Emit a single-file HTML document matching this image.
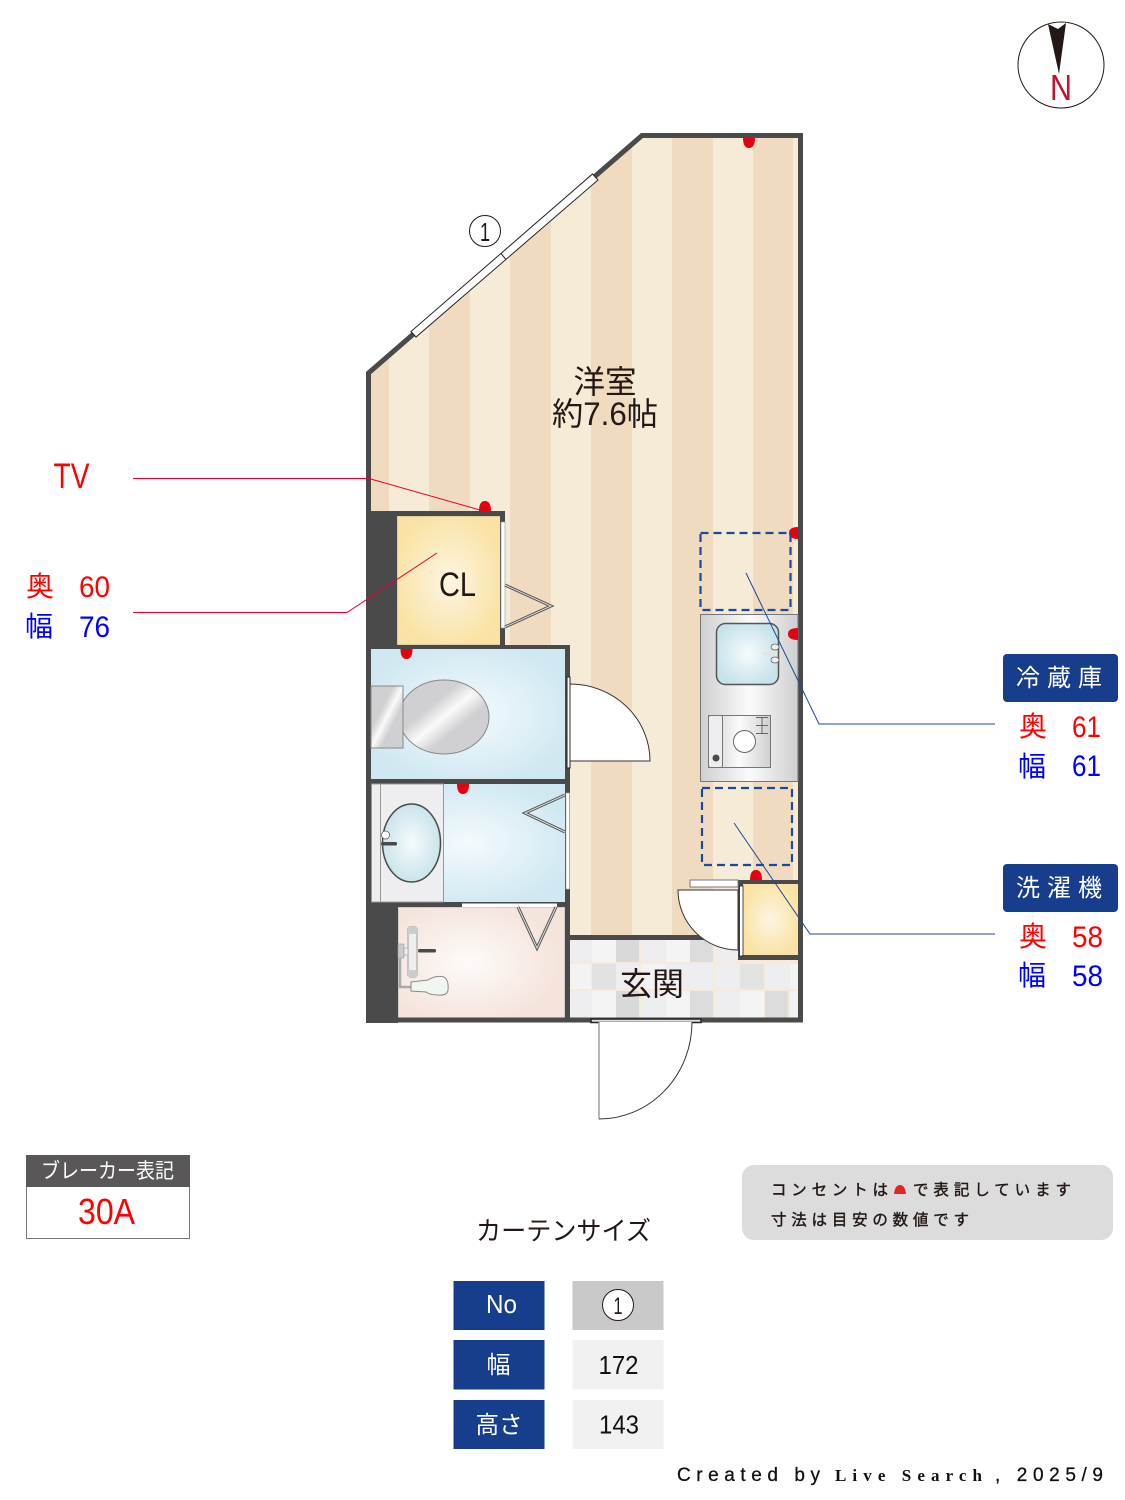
<!DOCTYPE html>
<html lang="ja">
<head>
<meta charset="utf-8">
<style>
html,body{margin:0;padding:0;background:#fff}
svg{display:block}
text{font-family:"Liberation Sans","Noto Sans CJK JP",sans-serif}
</style>
</head>
<body>
<svg xmlns="http://www.w3.org/2000/svg" width="1125" height="1500" viewBox="0 0 1125 1500">
<defs>
<clipPath id="room"><polygon points="368.5,373 642,135.5 800.5,135.5 800.5,1020 368.5,1020"/></clipPath>
<radialGradient id="gBlue" cx="50%" cy="50%" r="55%"><stop offset="0" stop-color="#f4fafd"/><stop offset="1" stop-color="#d0e8f2"/></radialGradient>
<radialGradient id="gYel" cx="50%" cy="50%" r="55%"><stop offset="0" stop-color="#fdf5e2"/><stop offset="1" stop-color="#f9e2a3"/></radialGradient>
<radialGradient id="gPink" cx="42%" cy="50%" r="55%"><stop offset="0" stop-color="#fdfbf9"/><stop offset="1" stop-color="#f5e4dc"/></radialGradient>
<radialGradient id="gBasin" cx="50%" cy="50%" r="55%"><stop offset="0" stop-color="#f6fbfc"/><stop offset="1" stop-color="#c6e2ea"/></radialGradient>
<linearGradient id="gMetal" x1="0" y1="0" x2="1" y2="1"><stop offset="0" stop-color="#d0d0d2"/><stop offset=".35" stop-color="#d0d0d2"/><stop offset=".5" stop-color="#fafafa"/><stop offset=".65" stop-color="#d0d0d2"/><stop offset="1" stop-color="#d0d0d2"/></linearGradient>
<linearGradient id="gKit" x1="0" y1="0" x2="1" y2="0"><stop offset="0" stop-color="#cfcfd1"/><stop offset=".5" stop-color="#fbfbfb"/><stop offset="1" stop-color="#cfcfd1"/></linearGradient>
</defs>

<!-- floor -->
<polygon points="368.5,373 642,135.5 800.5,135.5 800.5,1020 368.5,1020" fill="#f6ebd6"/>
<g clip-path="url(#room)" fill="#f1dbc0">
<rect x="368" y="130" width="21" height="900"/>
<rect x="429" y="130" width="41" height="900"/>
<rect x="510" y="130" width="41" height="900"/>
<rect x="591" y="130" width="41" height="900"/>
<rect x="672" y="130" width="41" height="900"/>
<rect x="753" y="130" width="40" height="900"/>
</g>

<!-- genkan tiles -->
<rect x="570" y="938" width="229" height="81" fill="#f8ead8"/>
<g fill="#eeeef0">
<rect x="570" y="940" width="21" height="22"/><rect x="592" y="940" width="24" height="22" fill="#f4f4f5"/><rect x="616" y="940" width="23" height="22" fill="#d9d9da"/><rect x="641" y="940" width="24" height="22"/><rect x="666" y="940" width="24" height="22" fill="#f4f4f5"/><rect x="690" y="940" width="23" height="22" fill="#dcdcdd"/><rect x="715" y="940" width="23" height="22"/>
<rect x="570" y="964" width="21" height="25" fill="#f3f3f4"/><rect x="592" y="964" width="24" height="25" fill="#e2e2e3"/><rect x="616" y="964" width="23" height="25"/><rect x="641" y="964" width="24" height="25" fill="#f3f3f4"/><rect x="666" y="964" width="24" height="25"/><rect x="690" y="964" width="23" height="25"/><rect x="715" y="964" width="24" height="25"/><rect x="740" y="964" width="24" height="25" fill="#e3e3e4"/><rect x="765" y="964" width="24" height="25"/><rect x="790" y="964" width="8" height="25" fill="#f3f3f4"/>
<rect x="570" y="991" width="21" height="27"/><rect x="592" y="991" width="24" height="27" fill="#f4f4f5"/><rect x="616" y="991" width="23" height="27" fill="#d9d9da"/><rect x="641" y="991" width="24" height="27"/><rect x="666" y="991" width="24" height="27" fill="#f4f4f5"/><rect x="690" y="991" width="23" height="27" fill="#dcdcdd"/><rect x="715" y="991" width="24" height="27"/><rect x="740" y="991" width="24" height="27" fill="#f4f4f5"/><rect x="765" y="991" width="23" height="27" fill="#dcdcdd"/><rect x="790" y="991" width="8" height="27" fill="#f3f3f4"/>
</g>

<!-- closet / rooms -->
<rect x="397" y="516" width="104" height="129" fill="url(#gYel)" stroke="#b5ab93" stroke-width=".8"/>
<rect x="371" y="649" width="194" height="130" fill="url(#gBlue)"/>
<rect x="371" y="784" width="194" height="118" fill="url(#gBlue)"/>
<rect x="398" y="907" width="167" height="111" fill="url(#gPink)" stroke="#aaa" stroke-width=".8"/>
<rect x="743" y="884" width="55" height="71" fill="url(#gYel)"/>

<!-- walls -->
<polygon points="368.5,373 642,135.5 800.5,135.5 800.5,1020 368.5,1020" fill="none" stroke="#4a4a4a" stroke-width="5"/>
<g fill="#4a4a4a">
<rect x="366" y="511" width="31" height="136"/>
<rect x="366" y="511" width="139" height="5"/>
<rect x="500" y="511" width="5" height="136"/>
<rect x="366" y="645" width="204" height="4"/>
<rect x="565" y="645" width="5" height="376"/>
<rect x="366" y="779" width="204" height="5"/>
<rect x="366" y="902" width="204" height="5"/>
<rect x="366" y="902" width="32" height="121"/>
<rect x="570" y="935" width="170" height="5"/>
<rect x="738" y="880" width="65" height="4"/>
<rect x="738" y="880" width="5" height="80"/>
<rect x="738" y="955" width="65" height="5"/>
</g>

<!-- window 1 -->
<g stroke="#2a2320" stroke-width="1" fill="#fff">
<polygon points="411,331.500 416,337 598,180 592.500,174"/>
<line x1="501" y1="253.500" x2="506" y2="259.500"/>
</g>

<!-- doors -->
<rect x="501" y="522" width="4" height="106" fill="#fff" stroke="#999" stroke-width=".6"/>
<polyline points="505,585 551,606 505,627" fill="none" stroke="#555" stroke-width="3"/>
<polyline points="505,585 551,606 505,627" fill="none" stroke="#ddd" stroke-width="1"/>

<rect x="567" y="677" width="3" height="91" fill="#fff" stroke="#222" stroke-width="1"/>
<path d="M570,684 A80,77 0 0 1 650,761 L570,761 Z" fill="#fff" stroke="#3a3230" stroke-width="1"/>

<rect x="566" y="793" width="3.500" height="96" fill="#fff" stroke="#aaa" stroke-width=".6"/>
<polyline points="565,795 525,813 565,832" fill="none" stroke="#555" stroke-width="3"/>
<polyline points="565,795 525,813 565,832" fill="none" stroke="#ddd" stroke-width="1"/>

<rect x="462" y="903.500" width="95" height="3.500" fill="#fff"/>
<polyline points="518,907 537,948 556,907" fill="none" stroke="#555" stroke-width="3"/>
<polyline points="518,907 537,948 556,907" fill="none" stroke="#ddd" stroke-width="1"/>

<rect x="690" y="880" width="48" height="7" fill="#fff" stroke="#777" stroke-width="1"/>
<path d="M678,890 L738,890 L738,950 A60,60 0 0 1 678,890 Z" fill="#fff" stroke="#3a3230" stroke-width="1"/>
<rect x="739.500" y="886" width="3.500" height="70" fill="#fff" stroke="#222" stroke-width=".8"/>

<rect x="591" y="1019" width="110" height="3.500" fill="#ddd" stroke="#222" stroke-width="1.500"/>
<path d="M599,1022 L599,1119 A93,97 0 0 0 692,1022" fill="#fff" stroke="none"/>
<line x1="599" y1="1022" x2="599" y2="1119" stroke="#888" stroke-width="1.200"/>
<path d="M599,1119 A93,97 0 0 0 692,1022" fill="none" stroke="#3a3230" stroke-width="1"/>

<!-- toilet -->
<ellipse cx="444" cy="717" rx="45" ry="37" fill="url(#gMetal)" stroke="#888" stroke-width="1"/>
<rect x="371" y="686" width="32" height="62" fill="url(#gMetal)" stroke="#888" stroke-width="1"/>

<!-- vanity -->
<rect x="371.500" y="784" width="72" height="118" fill="#eeeef0" stroke="#999" stroke-width="1"/>
<line x1="380.500" y1="784" x2="380.500" y2="902" stroke="#999" stroke-width="1"/>
<ellipse cx="411.500" cy="843" rx="29" ry="39" fill="url(#gBasin)" stroke="#4a4a4a" stroke-width="1.500"/>
<circle cx="385.500" cy="835" r="4" fill="#fff" stroke="#555" stroke-width=".7"/>
<rect x="381" y="842" width="16" height="3.500" rx="1.500" fill="#4a4a4a"/>

<!-- shower fixture -->
<rect x="408" y="927" width="9" height="50" rx="2" fill="#eee" stroke="#999" stroke-width="1"/>
<rect x="408" y="927" width="9" height="7" fill="#ccc"/><rect x="408" y="970" width="9" height="7" fill="#ccc"/>
<rect x="398" y="944" width="6" height="14" fill="#ccc" stroke="#999" stroke-width=".6"/>
<rect x="404" y="948" width="4" height="7" fill="#eee" stroke="#999" stroke-width=".6"/>
<rect x="418" y="949" width="18" height="3.500" rx="1.500" fill="#4a4a4a"/>
<path d="M400,958 L400,987 L411,987" fill="none" stroke="#aaa" stroke-width="2.500"/>
<path d="M411,982 L428,980 Q436,975 444,977 Q449,980 448,990 Q447,996 438,995 Q430,995 426,992 L411,991 Z" fill="#f2f6f1" stroke="#888" stroke-width="1"/>

<!-- kitchen -->
<rect x="700.500" y="614.500" width="97.500" height="167" fill="url(#gKit)" stroke="#777" stroke-width="1"/>
<rect x="716.500" y="623.500" width="62" height="61" rx="9" fill="url(#gBasin)" stroke="#555" stroke-width="1.500"/>
<ellipse cx="775" cy="647" rx="4" ry="3" fill="#eee" stroke="#666" stroke-width=".8"/>
<ellipse cx="775" cy="660" rx="4" ry="3" fill="#eee" stroke="#666" stroke-width=".8"/>
<rect x="763" y="652" width="14" height="4" fill="#e4e4e4"/>
<rect x="708.500" y="715.500" width="62" height="52" fill="url(#gKit)" stroke="#777" stroke-width="1"/>
<rect x="708.500" y="715.500" width="14" height="52" rx="2" fill="#eeeef0" stroke="#777" stroke-width="1"/>
<circle cx="716" cy="758" r="3.500" fill="#4a4a4a"/>
<circle cx="744.500" cy="741.500" r="11" fill="#fff" stroke="#666" stroke-width="1"/>
<path d="M756,717.500 H768 M756,733.500 H768 M762,717.500 V733.500 M756,725.500 H768" stroke="#666" stroke-width="1" fill="none"/>

<!-- outlets -->
<g fill="#e60012">
<path d="M743,138 Q743,148 749,148 Q755,148 755,138 Z"/>
<path d="M479,511 Q479,501 485,501 Q491,501 491,511 Z"/>
<path d="M400.500,649 Q400.500,659 406.500,659 Q412.500,659 412.500,649 Z"/>
<path d="M457,784 Q457,794 463,794 Q469,794 469,784 Z"/>
<path d="M798,527 Q789,527 789,533 Q789,539 798,539 Z"/>
<path d="M798,628 Q788,628 788,634 Q788,640 798,640 Z"/>
<path d="M750,880 Q750,870 756,870 Q762,870 762,880 Z"/>
</g>

<!-- dashed -->
<g fill="none" stroke="#1a4a9c" stroke-width="2.200" stroke-dasharray="8 5">
<rect x="700.500" y="533" width="90" height="77"/>
<rect x="702" y="788" width="90" height="77"/>
</g>

<!-- leader lines -->
<g fill="none" stroke-width="1">
<polyline points="133,478.500 369,478.500 480,510" stroke="#e60033"/>
<polyline points="133,612.500 347,612.500 437,553" stroke="#e60033"/>
<polyline points="746,573 819,724 995,724" stroke="#1a4a9c"/>
<polyline points="734,823 810,934 995,934" stroke="#1a4a9c"/>
</g>

<!-- room labels -->
<text x="605" y="393" font-size="32" text-anchor="middle" fill="#231815" textLength="63" lengthAdjust="spacingAndGlyphs">洋室</text>
<text x="552" y="425" font-size="32" fill="#231815" textLength="106" lengthAdjust="spacingAndGlyphs">約7.6帖</text>
<text x="439" y="596" font-size="34" fill="#231815" textLength="37" lengthAdjust="spacingAndGlyphs">CL</text>
<text x="620" y="995" font-size="32" fill="#231815" textLength="64" lengthAdjust="spacingAndGlyphs">玄関</text>

<!-- circle 1 -->
<circle cx="485" cy="231" r="15.500" fill="#fff" stroke="#231815" stroke-width="1"/>
<text x="485" y="241" font-size="26" text-anchor="middle" fill="#231815" textLength="10" lengthAdjust="spacingAndGlyphs">1</text>

<!-- compass -->
<circle cx="1061" cy="65" r="43" fill="#fff" stroke="#231815" stroke-width="1"/>
<polygon points="1048,24 1058,29 1066,23 1059,74" fill="#231815"/>
<text x="1050" y="100" font-size="36" fill="#c8102e" textLength="22" lengthAdjust="spacingAndGlyphs">N</text>

<!-- left labels -->
<text x="53.500" y="488" font-size="35" fill="#ff0000" textLength="36" lengthAdjust="spacingAndGlyphs">TV</text>
<text x="26" y="596" font-size="28" fill="#ff0000">奥</text>
<text x="79" y="597" font-size="30" fill="#ff0000" textLength="31" lengthAdjust="spacingAndGlyphs">60</text>
<text x="25" y="636" font-size="28" fill="#0000ff">幅</text>
<text x="79" y="637" font-size="30" fill="#0000ff" textLength="31" lengthAdjust="spacingAndGlyphs">76</text>

<!-- right labels -->
<rect x="1003" y="654" width="115" height="48" rx="4" fill="#173e8c"/>
<text x="1016" y="686" font-size="24" fill="#fff" textLength="86" lengthAdjust="spacing">冷蔵庫</text>
<text x="1019" y="736" font-size="28" fill="#ff0000">奥</text>
<text x="1072" y="737" font-size="30" fill="#ff0000" textLength="29" lengthAdjust="spacingAndGlyphs">61</text>
<text x="1018" y="776" font-size="28" fill="#0000ff">幅</text>
<text x="1072" y="776" font-size="30" fill="#0000ff" textLength="29" lengthAdjust="spacingAndGlyphs">61</text>

<rect x="1003" y="864" width="115" height="48" rx="4" fill="#173e8c"/>
<text x="1016" y="896" font-size="24" fill="#fff" textLength="86" lengthAdjust="spacing">洗濯機</text>
<text x="1019" y="946" font-size="28" fill="#ff0000">奥</text>
<text x="1072" y="947" font-size="30" fill="#ff0000" textLength="31" lengthAdjust="spacingAndGlyphs">58</text>
<text x="1018" y="985" font-size="28" fill="#0000ff">幅</text>
<text x="1072" y="986" font-size="30" fill="#0000ff" textLength="31" lengthAdjust="spacingAndGlyphs">58</text>

<!-- breaker -->
<rect x="26.500" y="1155.500" width="163" height="83" fill="#fff" stroke="#777" stroke-width="1"/>
<rect x="26" y="1155" width="164" height="32" fill="#595757"/>
<text x="41" y="1178" font-size="21" fill="#fff" textLength="133" lengthAdjust="spacingAndGlyphs">ブレーカー表記</text>
<text x="78" y="1224" font-size="36" fill="#ff0000" textLength="57" lengthAdjust="spacingAndGlyphs">30A</text>

<!-- note -->
<rect x="742" y="1165" width="371" height="75" rx="12" fill="#dcdcdc"/>
<g stroke="#231815" stroke-width=".4" fill="#231815" font-size="15.500">
<text x="771" y="1195" textLength="117" lengthAdjust="spacing">コンセントは</text>
<text x="913" y="1195" textLength="158" lengthAdjust="spacing">で表記しています</text>
<text x="771" y="1225" textLength="198" lengthAdjust="spacing">寸法は目安の数値です</text>
</g>
<path d="M894,1194 Q895,1185 900,1185 Q905,1185 906,1194 Z" fill="#e0281e"/>

<!-- curtain table -->
<text x="476" y="1240" font-size="26" fill="#231815" textLength="175" lengthAdjust="spacingAndGlyphs">カーテンサイズ</text>
<g fill="#173e8c">
<rect x="453.500" y="1281" width="91" height="49"/>
<rect x="453.500" y="1340" width="91" height="49.500"/>
<rect x="453.500" y="1400" width="91" height="49"/>
</g>
<rect x="572.500" y="1281" width="91" height="49" fill="#c9c9c9"/>
<rect x="572.500" y="1340" width="91" height="49.500" fill="#f1f1f1"/>
<rect x="572.500" y="1400" width="91" height="49" fill="#f1f1f1"/>
<text x="486" y="1313" font-size="26" fill="#fff" textLength="31" lengthAdjust="spacingAndGlyphs">No</text>
<text x="486.500" y="1373" font-size="24" fill="#fff">幅</text>
<text x="475.500" y="1433" font-size="24" fill="#fff" textLength="47" lengthAdjust="spacingAndGlyphs">高さ</text>
<circle cx="618" cy="1305" r="15.500" fill="#fff" stroke="#231815" stroke-width="1"/>
<text x="618" y="1314" font-size="24" text-anchor="middle" fill="#231815" textLength="9" lengthAdjust="spacingAndGlyphs">1</text>
<text x="598.500" y="1374" font-size="26" fill="#111" textLength="40" lengthAdjust="spacingAndGlyphs">172</text>
<text x="599" y="1433.500" font-size="26" fill="#111" textLength="40" lengthAdjust="spacingAndGlyphs">143</text>

<!-- footer -->
<text x="677" y="1481" font-size="19" fill="#111" stroke="#111" stroke-width=".3" textLength="143" lengthAdjust="spacing">Created by</text>
<text x="835" y="1481" font-size="17" font-weight="bold" fill="#111" style="font-family:'Liberation Serif',serif" textLength="147" lengthAdjust="spacing">Live Search</text>
<text x="995" y="1481" font-size="19" fill="#111" stroke="#111" stroke-width=".3" textLength="108" lengthAdjust="spacing">, 2025/9</text>
</svg>
</body>
</html>
